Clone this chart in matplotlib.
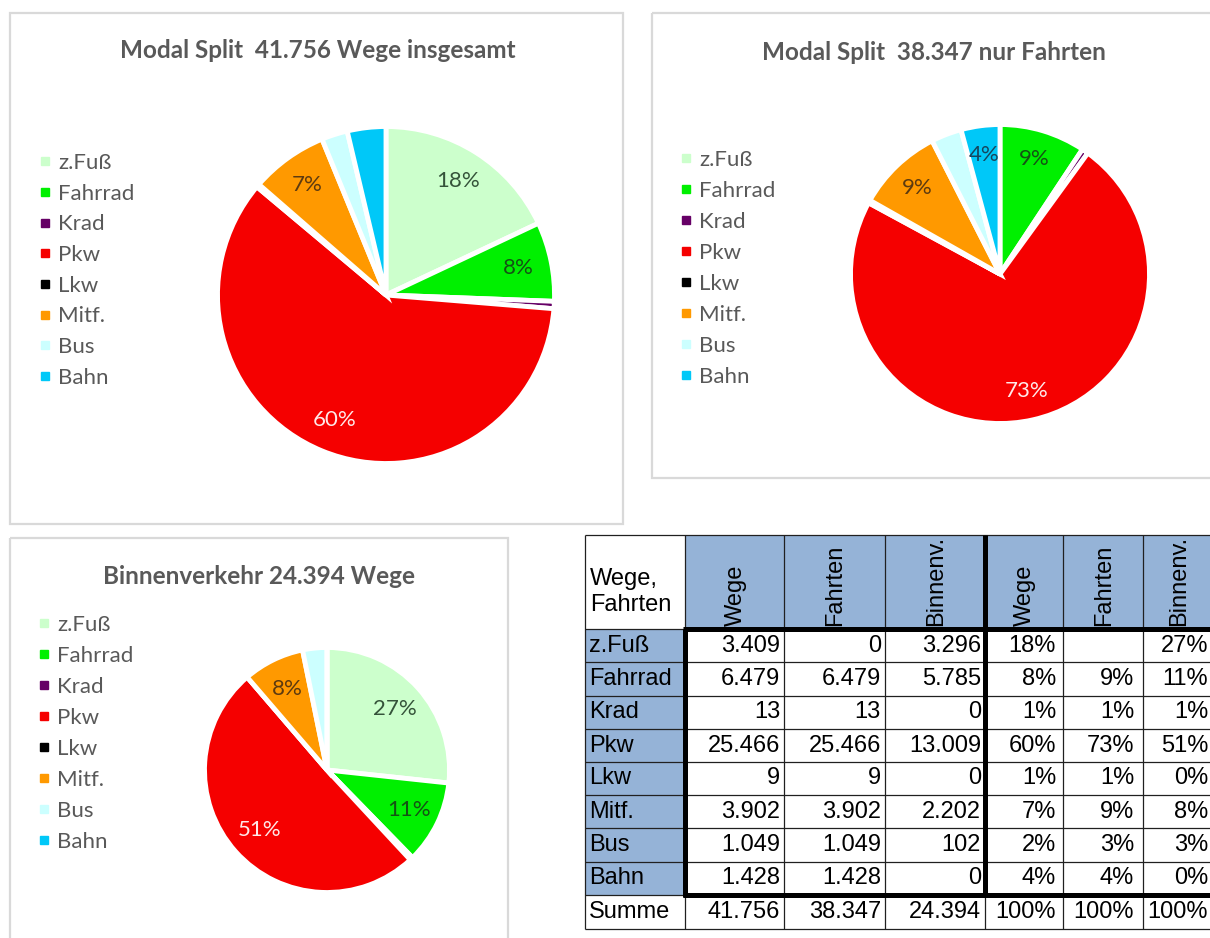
import matplotlib
matplotlib.use("Agg")
import matplotlib.pyplot as plt
from matplotlib.patches import Rectangle
from matplotlib.lines import Line2D

W, H = 1210, 938

# ---------------- data ----------------
categories = ["z.Fuß", "Fahrrad", "Krad", "Pkw", "Lkw", "Mitf.", "Bus", "Bahn"]
colors = ["#CCFFCC", "#00F000", "#660066", "#F50000", "#000000", "#FF9900", "#CCFFFF", "#00C8F8"]
label_colors = {"z.Fuß": "#35533A", "Fahrrad": "#145214", "Pkw": "#FFE8E8",
                "Mitf.": "#5C3A10", "Bahn": "#16465E"}

# pie shares (%)
wege_share = [18.0, 7.6, 0.7, 59.8, 0.3, 7.4, 2.5, 3.7]
fahrten_share = [0.0, 9.3, 0.7, 72.9, 0.3, 9.3, 3.3, 4.2]
binnen_share = [26.7, 11.0, 0.4, 50.6, 0.0, 8.1, 3.2, 0.0]

wege_show = ["z.Fuß", "Fahrrad", "Pkw", "Mitf."]
fahrten_show = ["Fahrrad", "Pkw", "Mitf.", "Bahn"]
binnen_show = ["z.Fuß", "Fahrrad", "Pkw", "Mitf."]

title_wege = "Modal Split  41.756 Wege insgesamt"
title_fahrten = "Modal Split  38.347 nur Fahrten"
title_binnen = "Binnenverkehr 24.394 Wege"

# table
table_corner = "Wege,\nFahrten"
col_headers = ["Wege", "Fahrten", "Binnenv.", "Wege", "Fahrten", "Binnenv."]
wege_abs = [3409, 6479, 13, 25466, 9, 3902, 1049, 1428]
fahrten_abs = [0, 6479, 13, 25466, 9, 3902, 1049, 1428]
binnen_abs = [3296, 5785, 0, 13009, 0, 2202, 102, 0]
wege_pct = [18, 8, 1, 60, 1, 7, 2, 4]
fahrten_pct = [None, 9, 1, 73, 1, 9, 3, 4]
binnen_pct = [27, 11, 1, 51, 0, 8, 3, 0]
summe_label = "Summe"
summe_abs = [41756, 38347, 24394]
summe_pct = [100, 100, 100]

# ---------------- figure ----------------
fig = plt.figure(figsize=(W / 100, H / 100), dpi=100)
fig.patch.set_facecolor("white")
base = fig.add_axes([0, 0, 1, 1])
base.set_xlim(0, W)
base.set_ylim(H, 0)
base.axis("off")

FONT = "Lato"
TXT = "#595959"

# panel frames
for (x, y, w, h) in [(10, 13, 613, 511), (652, 13, 566, 465), (10, 538, 498, 420)]:
    base.add_patch(Rectangle((x, y), w, h, fill=False, edgecolor="#D9D9D9", lw=1.6))

# titles
TTS = 17.5
base.text(318, 50, title_wege, ha="center", va="center", fontsize=TTS, fontweight="bold",
          color=TXT, family=FONT)
base.text(934, 52, title_fahrten, ha="center", va="center", fontsize=TTS, fontweight="bold",
          color=TXT, family=FONT)
base.text(259, 577, title_binnen, ha="center", va="center", fontsize=TTS, fontweight="bold",
          color=TXT, family=FONT)


def draw_pie(cx, cy, r, shares, show, pctdist):
    R = r + 2.5
    ax = fig.add_axes([(cx - R) / W, 1 - (cy + R) / H, 2 * R / W, 2 * R / H])
    wedges, texts, autotexts = ax.pie(
        shares, colors=colors, startangle=90, counterclock=False, radius=1,
        autopct="%.0f%%", pctdistance=pctdist,
        wedgeprops=dict(edgecolor="white", linewidth=3.5),
        textprops=dict(fontsize=16, family=FONT))
    ax.set_xlim(-1, 1)
    ax.set_ylim(-1, 1)
    ax.axis("off")
    for cat, t in zip(categories, autotexts):
        if cat in show:
            t.set_color(label_colors[cat])
        else:
            t.set_visible(False)
    return ax


def draw_legend(x, ytop, spacing):
    handles = [Line2D([], [], linestyle="none", marker="s", markersize=5.5,
                      markerfacecolor=c, markeredgecolor=c) for c in colors]
    fig.legend(handles, categories, loc="upper left", bbox_to_anchor=(x, ytop),
               bbox_transform=base.transData, frameon=False,
               prop=dict(family=FONT, size=16), labelcolor=TXT,
               handlelength=0.5, handletextpad=0.35, labelspacing=spacing,
               borderpad=0, borderaxespad=0)


draw_pie(386, 295, 166, wege_share, wege_show, 0.8)
draw_pie(1000, 274, 147, fahrten_share, fahrten_show, 0.8)
draw_pie(327, 770, 120, binnen_share, binnen_show, 0.74)

draw_legend(39, 153, 0.48)
draw_legend(680, 150, 0.495)
draw_legend(38, 615, 0.495)

# ---------------- table ----------------
TFONT = "Liberation Sans"
TFS = 17
col_x = [585, 685, 784, 885, 985, 1063, 1143, 1214]
row_y = [535, 629, 662, 696, 729, 762, 795, 828, 862, 895, 929]
blue = "#95B3D7"
line_c = "#202020"

base.add_patch(Rectangle((col_x[1], row_y[0]), col_x[-1] - col_x[1], row_y[1] - row_y[0],
                         facecolor=blue, edgecolor="none"))
base.add_patch(Rectangle((col_x[0], row_y[1]), col_x[1] - col_x[0], row_y[9] - row_y[1],
                         facecolor=blue, edgecolor="none"))

for y in row_y:
    base.plot([col_x[0], col_x[-1]], [y, y], color=line_c, lw=0.9, solid_capstyle="butt")
for x in col_x:
    base.plot([x, x], [row_y[0], row_y[-1]], color=line_c, lw=0.9, solid_capstyle="butt")

# heavy borders
base.plot([col_x[1] - 2.5, col_x[-1]], [row_y[1], row_y[1]], color="black", lw=3.6,
          solid_capstyle="butt")
base.plot([col_x[1] - 2.5, col_x[-1]], [row_y[9], row_y[9]], color="black", lw=3.6,
          solid_capstyle="butt")
base.plot([col_x[1], col_x[1]], [row_y[1], row_y[9] + 2.5], color="black", lw=3.6,
          solid_capstyle="butt")
base.plot([col_x[4], col_x[4]], [row_y[0], row_y[9]], color="black", lw=3.6,
          solid_capstyle="butt")

# header texts
base.text(col_x[0] + 5, 592, table_corner, ha="left", va="center", fontsize=TFS,
          family=TFONT, color="black", linespacing=1.25)
for j, h in enumerate(col_headers):
    xc = (col_x[j + 1] + col_x[j + 2]) / 2
    t = base.text(xc + 1, row_y[1] - 3, h, rotation=90, ha="center", va="bottom",
                  fontsize=TFS, family=TFONT, color="black")
    clip = Rectangle((col_x[j + 1], row_y[0]), col_x[j + 2] - col_x[j + 1], row_y[1] - row_y[0],
                     transform=base.transData, fill=False, visible=False)
    base.add_patch(clip)
    t.set_clip_path(clip)


def fmt_num(v):
    return f"{v:,}".replace(",", ".")


def fmt_pct(v):
    return "" if v is None else f"{v}%"


columns = [(wege_abs, fmt_num, 4), (fahrten_abs, fmt_num, 4), (binnen_abs, fmt_num, 4),
           (wege_pct, fmt_pct, 7), (fahrten_pct, fmt_pct, 9), (binnen_pct, fmt_pct, 6)]

for i, cat in enumerate(categories):
    yc = (row_y[i + 1] + row_y[i + 2]) / 2
    base.text(col_x[0] + 4, yc, cat, ha="left", va="center", fontsize=TFS,
              family=TFONT, color="black")
    for j, (vals, f, pad) in enumerate(columns):
        base.text(col_x[j + 2] - pad, yc, f(vals[i]), ha="right", va="center",
                  fontsize=TFS, family=TFONT, color="black")

yc = (row_y[9] + row_y[10]) / 2
base.text(col_x[0] + 4, yc, summe_label, ha="left", va="center", fontsize=TFS,
          family=TFONT, color="black")
summe_vals = [fmt_num(v) for v in summe_abs] + [fmt_pct(v) for v in summe_pct]
pads = [4, 4, 4, 7, 9, 6]
for j, s in enumerate(summe_vals):
    base.text(col_x[j + 2] - pads[j], yc, s, ha="right", va="center",
              fontsize=TFS, family=TFONT, color="black")

fig.savefig("out.png", dpi=100, facecolor="white")
